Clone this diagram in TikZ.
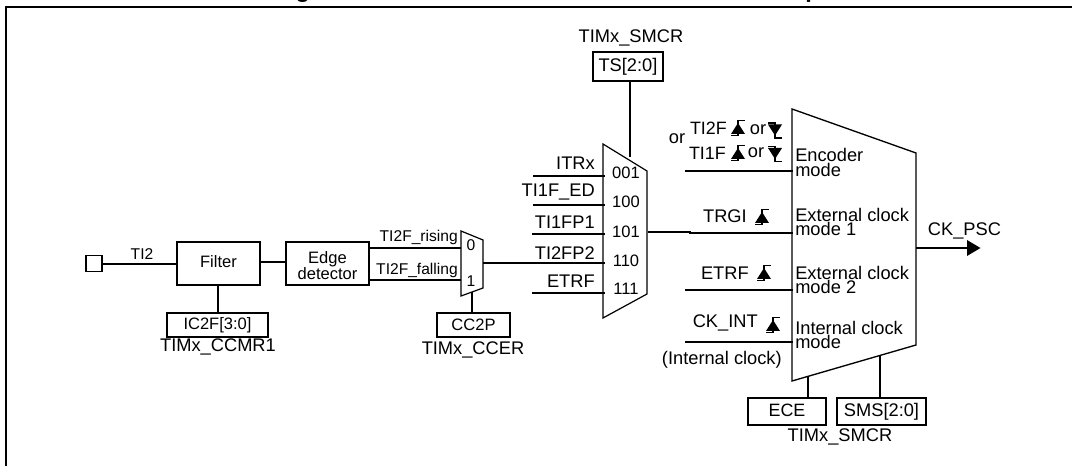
\documentclass[tikz,border=0pt]{standalone}
\usepackage{fontspec}
\setmainfont{Liberation Sans}
\begin{document}
\begin{tikzpicture}[x=0.75pt,y=-0.75pt,
  wire/.style={line width=1.4pt},
  regbox/.style={draw,line width=1.5pt,inner sep=0pt},
  lbl/.style={font=\fontsize{13.7}{13.7}\selectfont,inner sep=0pt},
  mlbl/.style={font=\fontsize{12.4}{12.4}\selectfont,inner sep=0pt},
  slbl/.style={font=\fontsize{11.7}{11.7}\selectfont,inner sep=0pt},
  two/.style={align=left,font=\fontsize{13.7}{11}\selectfont,inner sep=0pt,anchor=west},
  edgeup/.pic={\fill (-7,6)--(7,6)--(0,-5)--cycle;
     \draw[line width=0.9pt] (-7,7.5)--(0,7.5)--(0,-7.5)--(7,-7.5);},
  edgedown/.pic={\fill (-7,-6)--(7,-6)--(0,5)--cycle;
     \draw[line width=0.9pt] (-7,-7.5)--(0,-7.5)--(0,7.5)--(7,7.5);}
]
\useasboundingbox (0,0) rectangle (1072,466);
% frame
\coordinate (fa) at (6,466); \coordinate (fb) at (6,7.5); \coordinate (fc) at (1072,7.5);
\draw[line width=1.5pt] (fa)--(fb)--(fc);
\begin{scope}
\clip (0,0) rectangle (1072,6);
\node[font=\bfseries\fontsize{17.7}{17.7}\selectfont,anchor=base,inner sep=0pt] (title) at (557,-2) {Figure 134. TI2 external clock connection example};
\end{scope}
% input
\node[draw,line width=1.4pt,minimum width=16*0.75pt,minimum height=16*0.75pt,inner sep=0pt] (pin) at (94,263.5) {};
\node[regbox,minimum width=83*0.75pt,minimum height=43*0.75pt] (filter) at (218.5,264) {};
\node[mlbl] (filtertxt) at (218.5,262) {Filter};
\node[regbox,minimum width=83*0.75pt,minimum height=43*0.75pt] (edge) at (327.5,264) {};
\node[align=center,font=\fontsize{12.4}{11.2}\selectfont,inner sep=0pt] (edgetxt) at (327.5,265.5) {Edge\\detector};
\coordinate (tiw) at (filter.west);
\draw[wire] (pin.east|-tiw) -- (tiw);
\node[slbl] (ti2) at (142,254) {TI2};
\draw[wire] ([yshift=1.5pt]filter.east) -- ([yshift=1.5pt]edge.west);
\node[regbox,minimum width=101*0.75pt,minimum height=24*0.75pt,mlbl] (ic) at (217.5,325) {IC2F[3:0]};
\coordinate (fw) at (218,286);
\draw[wire] (fw) -- (fw|-ic.north);
\node[lbl] (icreg) at (218,347) {TIMx\_CCMR1};
% small mux
\coordinate (m1) at (461,231); \coordinate (m2) at (483,240); \coordinate (m3) at (483,288); \coordinate (m4) at (461,296);
\draw[line width=0.9pt,fill=white] (m1)--(m2)--(m3)--(m4)--cycle;
\node[slbl] (zero) at (471,245) {0};
\node[slbl] (one) at (471,281) {1};
\coordinate (r1) at (edge.east|-0,248); \coordinate (r2) at (edge.east|-0,280);
\draw[wire] (r1) -- (r1-|m1);
\draw[wire] (r2) -- (r2-|m1);
\node[slbl,anchor=east] (rising) at (458,237) {TI2F\_rising};
\node[slbl,anchor=east] (falling) at (458,270) {TI2F\_falling};
\node[regbox,minimum width=73*0.75pt,minimum height=24*0.75pt,mlbl] (cc) at (473.5,325) {CC2P};
\coordinate (mb) at (472,292);
\draw[wire] (mb) -- (mb|-cc.north);
\node[lbl] (ccreg) at (473,350) {TIMx\_CCER};
% big mux
\coordinate (b1) at (603,144); \coordinate (b2) at (647,171); \coordinate (b3) at (647,294); \coordinate (b4) at (603,318);
\draw[line width=0.9pt] (b1)--(b2)--(b3)--(b4)--cycle;
\node[mlbl] (s1) at (626,173) {001};
\node[mlbl] (s2) at (626,202) {100};
\node[mlbl] (s3) at (626,232) {101};
\node[mlbl] (s4) at (626,261) {110};
\node[mlbl] (s5) at (626,289) {111};
\coordinate (w1) at (533,176); \coordinate (w2) at (533,205); \coordinate (w3) at (532,234); \coordinate (w4) at (483,263); \coordinate (w5) at (532,293);
\coordinate (we) at (605,0);
\draw[wire] (w1) -- (w1-|we);
\draw[wire] (w2) -- (w2-|we);
\draw[wire] (w3) -- (w3-|we);
\draw[wire] (w4) -- (w4-|we);
\draw[wire] (w5) -- (w5-|we);
\node[lbl,anchor=east] (l1) at (595,163) {ITRx};
\node[lbl,anchor=east] (l2) at (595,192) {TI1F\_ED};
\node[lbl,anchor=east] (l3) at (595,222) {TI1FP1};
\node[lbl,anchor=east] (l4) at (595,253) {TI2FP2};
\node[lbl,anchor=east] (l5) at (595,281) {ETRF};
% TS
\node[regbox,minimum width=70*0.75pt,minimum height=29*0.75pt,lbl] (ts) at (628,66.5) {TS[2:0]};
\node[lbl] (tsreg) at (631,38) {TIMx\_SMCR};
\coordinate (tt) at (630,66.5); \coordinate (tb) at (630,157);
\draw[wire] (tt|-ts.south) -- (tb);
% mode block
\coordinate (c1) at (792,109); \coordinate (c2) at (916,153); \coordinate (c3) at (916,345); \coordinate (c4) at (792,381);
\draw[line width=1pt] (c1)--(c2)--(c3)--(c4)--cycle;
\coordinate (cw) at (793,0);
\coordinate (i1) at (685,171); \coordinate (i2) at (648,232); \coordinate (i2b) at (690,233); \coordinate (i3) at (685,290); \coordinate (i4) at (685,342);
\draw[wire] (i1) -- (i1-|cw);
\draw[wire] (i2) -- (i2-|i2b) -- (i2b) -- (i2b-|cw);
\draw[wire] (i3) -- (i3-|cw);
\draw[wire] (i4) -- (i4-|cw);
\node[two] (mode1) at (795,162.5) {Encoder\\mode};
\node[two] (mode2) at (795,222) {External clock\\mode 1};
\node[two] (mode3) at (795,280) {External clock\\mode 2};
\node[two] (mode4) at (795,335) {Internal clock\\mode};
% input labels
\node[font=\fontsize{13.4}{13.4}\selectfont,inner sep=0pt,anchor=east] (t2) at (727,128) {TI2F};
\pic at (738,128) {edgeup};
\node[lbl] (or1) at (758,130) {or};
\pic at (775,130.5) {edgedown};
\node[font=\fontsize{13.4}{13.4}\selectfont,inner sep=0pt,anchor=east] (t1) at (726,153) {TI1F};
\pic at (738,153) {edgeup};
\node[lbl] (or2) at (756,153) {or};
\pic at (775,154) {edgedown};
\node[lbl] (or3) at (677,139) {or};
\node[lbl,anchor=east] (trgi) at (747,216) {TRGI};
\pic at (762,217) {edgeup};
\node[lbl,anchor=east] (etrf) at (749,273) {ETRF};
\pic at (764,273) {edgeup};
\node[lbl,anchor=east] (ckint) at (758,323) {CK\_INT};
\pic at (773,325) {edgeup};
\node[lbl,anchor=east] (intclk) at (782,360) {(Internal clock)};
% output
\coordinate (oa) at (916,248); \coordinate (ob) at (968,248);
\draw[wire] (oa) -- (ob);
\fill (967,240)--(980.5,248)--(967,256)--cycle;
\node[lbl] (ckpsc) at (964.5,231) {CK\_PSC};
% bottom
\node[regbox,minimum width=78*0.75pt,minimum height=27*0.75pt] (ece) at (787,411.5) {};
\node[font=\fontsize{13.4}{13.4}\selectfont,inner sep=0pt] (ecetxt) at (787,410) {ECE};
\node[regbox,minimum width=89*0.75pt,minimum height=27*0.75pt,lbl] (sms) at (881.5,411.5) {SMS[2:0]};
\coordinate (e1) at (808,376); \coordinate (e2) at (880,355);
\draw[wire] (e1) -- (e1|-ece.north);
\draw[wire] (e2) -- (e2|-sms.north);
\node[lbl] (smreg) at (840,437) {TIMx\_SMCR};
\end{tikzpicture}
\end{document}
